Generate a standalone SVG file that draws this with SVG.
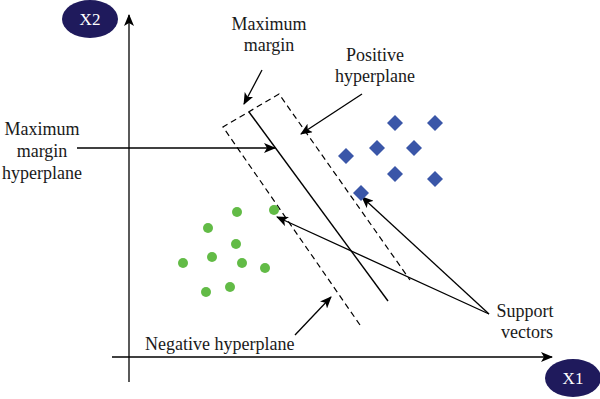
<svg xmlns="http://www.w3.org/2000/svg" width="600" height="399" viewBox="0 0 600 399">
<defs>
<marker id="ah" viewBox="0 0 12 10" refX="11" refY="5" markerWidth="12" markerHeight="10" markerUnits="userSpaceOnUse" orient="auto">
<path d="M0,0 L12,5 L0,10 L3,5 z" fill="#000"/>
</marker>
<style>
.lbl{font-family:"Liberation Serif","Times New Roman",serif;font-size:18px;fill:#1a1a1a;text-anchor:middle}
.ax{font-family:"Liberation Serif","Times New Roman",serif;font-size:17px;fill:#fff;text-anchor:middle}
.ln{stroke:#000;stroke-width:1.4;fill:none}
.arr{stroke:#000;stroke-width:1.3;fill:none;marker-end:url(#ah)}
.dash{stroke:#000;stroke-width:1.2;fill:none;stroke-dasharray:6 4}
.dia{fill:#3a56a8}
.dot{fill:#62bb46}
</style>
</defs>
<rect width="600" height="399" fill="#fff"/>
<g id="connectors">
<line class="arr" x1="129" y1="382" x2="129" y2="15"/>
<line class="arr" x1="112" y1="357" x2="552" y2="357"/>
<line class="arr" x1="262" y1="70" x2="244" y2="104"/>
<line class="arr" x1="362" y1="94" x2="301" y2="134"/>
<line class="arr" x1="77" y1="148" x2="275" y2="148"/>
<line class="arr" x1="489" y1="314" x2="362" y2="197"/>
<line class="arr" x1="489" y1="314" x2="277" y2="217"/>
<line class="arr" x1="295" y1="335" x2="331" y2="297"/>
</g>
<g id="margin-band">
<polyline class="dash" points="360,325 223,127 279,94 410,280"/>
<line class="ln" x1="249" y1="112" x2="388" y2="301"/>
</g>
<g id="positive-class">
<path class="dia" d="M395,115 l8,8 l-8,8 l-8,-8 z"/>
<path class="dia" d="M435,115 l8,8 l-8,8 l-8,-8 z"/>
<path class="dia" d="M377,140 l8,8 l-8,8 l-8,-8 z"/>
<path class="dia" d="M414,140 l8,8 l-8,8 l-8,-8 z"/>
<path class="dia" d="M346,148 l8,8 l-8,8 l-8,-8 z"/>
<path class="dia" d="M395,166 l8,8 l-8,8 l-8,-8 z"/>
<path class="dia" d="M435,171 l8,8 l-8,8 l-8,-8 z"/>
<path class="dia" d="M361,185 l8,8 l-8,8 l-8,-8 z"/>
</g>
<g id="negative-class">
<circle class="dot" cx="237" cy="212" r="5"/>
<circle class="dot" cx="274" cy="210" r="5"/>
<circle class="dot" cx="208" cy="228" r="5"/>
<circle class="dot" cx="236" cy="244" r="5"/>
<circle class="dot" cx="212" cy="257" r="5"/>
<circle class="dot" cx="183" cy="263" r="5"/>
<circle class="dot" cx="242" cy="263" r="5"/>
<circle class="dot" cx="265" cy="268" r="5"/>
<circle class="dot" cx="230" cy="287" r="5"/>
<circle class="dot" cx="206" cy="292" r="5"/>
</g>
<g id="x2-label">
<ellipse cx="90" cy="19" rx="28" ry="19" fill="#1f1a5c"/>
<text class="ax" x="90" y="25">X2</text>
</g>
<g id="x1-label">
<ellipse cx="573" cy="378" rx="28" ry="19" fill="#1f1a5c"/>
<text class="ax" x="573" y="384">X1</text>
</g>
<g id="label-maximum-margin">
<text class="lbl" x="269" y="30">Maximum</text>
<text class="lbl" x="269" y="51">margin</text>
</g>
<g id="label-positive-hyperplane">
<text class="lbl" x="375" y="61">Positive</text>
<text class="lbl" x="375" y="82">hyperplane</text>
</g>
<g id="label-max-margin-hyperplane">
<text class="lbl" x="42" y="135">Maximum</text>
<text class="lbl" x="42" y="157">margin</text>
<text class="lbl" x="42" y="179">hyperplane</text>
</g>
<g id="label-negative-hyperplane">
<text class="lbl" x="145" y="350" style="text-anchor:start">Negative hyperplane</text>
</g>
<g id="label-support-vectors">
<text class="lbl" x="525" y="317">Support</text>
<text class="lbl" x="527" y="338">vectors</text>
</g>
</svg>
